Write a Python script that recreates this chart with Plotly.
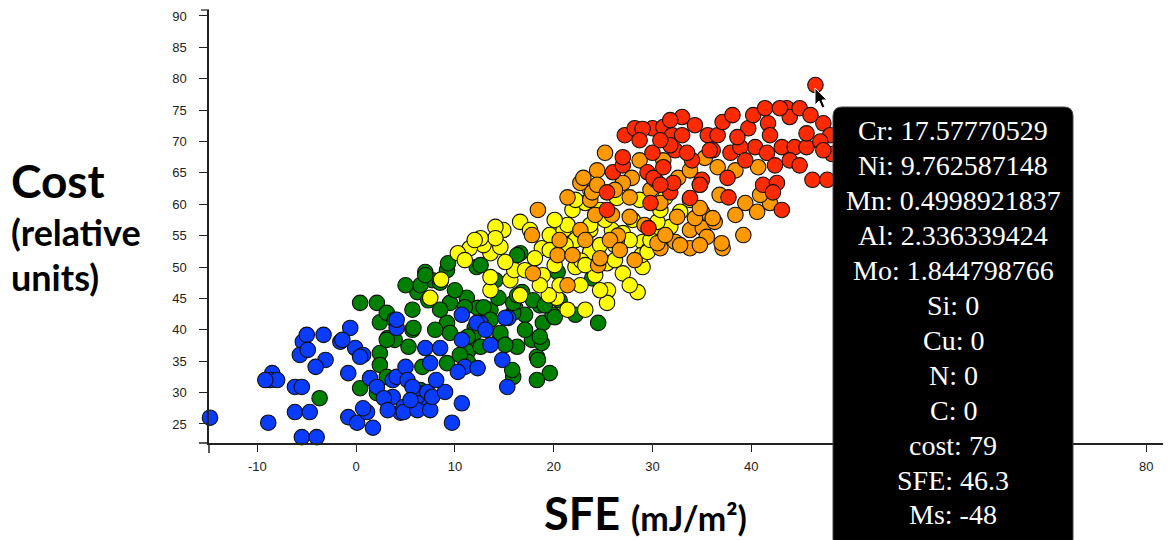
import plotly.graph_objects as go

# ---------------- data (SFE in mJ/m^2, cost in relative units) ----------------
blue_sfe = [-14.8, -8.9, -8.5, -8.7, -8.0, -9.2, -6.2, -5.5, -6.2, -4.7, -5.5, -4.0,
            -5.4, -5.0, -5.7, -4.9, -3.3, -3.1, -4.1, -1.6, -0.6, -0.1, 0.7, -0.8,
            -0.8, 0.1, 1.1, 1.7, 1.4, 2.1, 3.7, 4.1, 3.7, 4.5, -1.4, 4.1, 7.0, 8.5,
            10.7, 12.6, 10.7, 11.0, 12.3, 10.3, 14.8, 15.3, 15.4, 4.1, 5.0, 5.2,
            6.3, 7.2, 4.8, 6.2, 7.3, 10.7, 7.5, 5.7, 9.7, 4.8, 6.2, 7.5, 0.7, 5.5,
            7.7, 0.4, 12.2, 15.1, 13.1, 13.6, 9.0, 8.1, 2.8, 3.2]
blue_cost = [26.0, 25.2, 33.1, 32.0, 32.0, 32.0, 30.9, 30.9, 26.9, 26.9, 22.9, 22.9,
             38.1, 39.2, 36.0, 36.8, 39.2, 35.2, 34.1, 38.1, 40.3, 37.1, 36.0, 33.1,
             26.1, 25.2, 26.9, 24.4, 32.3, 30.9, 32.0, 40.3, 29.3, 26.8, 38.4, 41.6, 37.1, 37.1,
             42.4, 41.1, 38.4, 34.1, 33.9, 33.3, 35.2, 30.9, 41.9, 32.5, 34.1, 32.0,
             29.9, 30.1, 27.7, 28.3, 27.7, 28.3, 34.7, 30.9, 25.2, 26.9, 27.2, 27.2, 27.5, 28.8,
             29.3, 35.7, 41.1, 41.9, 40.0, 37.6, 30.1, 32.0, 29.1, 27.2]

green_sfe = [-3.7, 0.4, 2.1, 2.4, 3.2, 2.4, 2.4, 0.4, 2.1, 3.1, 5.7, 5.7, 6.2, 7.0, 7.7,
             9.2, 9.3, 9.5, 9.2, 11.2, 12.2, 12.3, 12.0, 11.7, 14.6, 16.3, 16.8, 16.1,
             17.1, 16.6, 17.8, 18.3, 15.9, 9.2, 6.7, 6.5, 5.3, 5.8, 9.5, 11.3, 12.0,
             13.6, 15.9, 18.9, 19.9, 18.8, 18.4, 19.6, 18.3, 15.8, 11.3, 24.5, 3.9,
             12.6, 14.1, 15.9, 20.4, 23.9, 18.6, 19.6, 20.1, 12.9, 13.6, 6.5, 7.3, 8.5,
             10.0, 7.0, 16.3, 16.3, 17.9, 18.6, 3.1, 3.1, 8.0, 11.0, 11.3, 14.6, 12.6,
             5.0, 8.5, 3.9, 10.5, 17.1, 15.1, 19.1, 20.6, 22.2, 14.4]
green_cost = [29.1, 44.3, 44.3, 41.2, 38.7, 36.3, 34.4, 30.7, 29.9, 32.5, 43.2, 40.0, 46.0, 49.2, 47.9,
              49.5, 50.6, 44.3, 41.1, 45.1, 50.0, 43.5, 40.3, 37.3, 38.9, 37.3, 46.0, 43.5,
              42.4, 52.2, 38.4, 35.7, 32.5, 34.7, 34.1, 30.4, 37.3, 40.3, 39.5, 36.5, 39.5,
              43.2, 42.7, 41.1, 42.4, 37.9, 35.2, 33.1, 32.0, 33.6, 34.9, 41.1, 38.4,
              50.3, 47.9, 44.3, 49.2, 48.2, 43.9, 45.2, 42.0, 43.6, 41.6, 47.1, 44.7, 43.2,
              46.3, 48.7, 51.9, 45.5, 44.7, 38.9, 42.7, 38.4, 40.0, 43.6, 38.9, 39.5, 37.3,
              47.1, 47.5, 41.6, 36.0, 40.0, 37.6, 43.9, 44.7, 42.4, 45.1]

yellow_sfe = [14.9, 14.1, 16.6, 13.6, 12.9, 14.6, 15.6, 13.6, 18.8, 18.9, 20.3, 19.6, 21.0,
              22.2, 21.9, 23.7, 24.5, 23.7, 25.5, 25.4, 23.2, 21.4, 27.0, 29.0, 28.5, 25.9,
              28.0, 29.0, 30.3, 31.8, 31.3, 26.4, 7.5, 11.5, 10.3, 32.8, 30.5, 27.0, 28.9,
              14.1, 21.4, 25.4, 13.6, 12.6, 17.6, 18.1, 20.1, 20.6, 22.7, 24.2, 26.2, 27.7,
              29.6, 30.3, 24.7, 23.7, 22.2, 28.7, 33.8, 34.8, 30.8, 23.2, 24.7, 23.7, 26.4,
              29.5, 8.6, 16.0, 19.5, 22.8, 11.0, 12.0, 15.1, 17.1, 19.6, 21.2, 23.2, 24.7,
              26.2, 27.7, 29.8, 16.6, 18.6, 20.1, 22.2, 25.2]
yellow_cost = [55.9, 56.4, 57.2, 52.2, 53.5, 53.2, 47.9, 46.3, 53.0, 48.7, 45.1, 55.1, 55.9,
               50.0, 59.1, 55.9, 53.0, 52.4, 46.3, 44.3, 43.2, 43.2, 49.0, 50.0, 46.0, 55.9,
               57.5, 54.0, 56.4, 56.4, 61.1, 61.0, 45.1, 53.0, 52.2, 58.8, 57.2, 55.4, 51.9,
               54.6, 56.7, 50.6, 48.4, 54.6, 55.9, 51.4, 50.3, 47.1, 47.1, 48.7, 53.5, 54.3,
               52.7, 53.5, 59.1, 62.3, 54.3, 60.7, 60.7, 63.1, 59.1, 60.2, 53.5, 56.7, 54.3,
               52.4, 48.0, 49.5, 45.5, 51.0, 51.1, 54.3, 50.8, 49.5, 52.7, 53.5, 50.3, 46.3,
               51.1, 47.1, 54.3, 45.5, 47.1, 57.5, 60.7, 57.5]

orange_sfe = [18.4, 17.8, 20.4, 21.9, 24.5, 21.4, 17.9, 22.7, 21.4, 22.7, 27.7, 30.8, 28.2,
              27.7, 33.8, 33.8, 35.1, 36.3, 35.5, 37.1, 39.2, 39.4, 40.6, 41.9, 32.6, 35.0,
              34.3, 25.2, 31.1, 35.3, 36.6, 40.7, 27.9, 34.8, 36.1, 23.0, 24.4, 23.7, 30.8,
              30.5, 32.3, 24.7, 32.5, 27.0, 23.9, 25.9, 24.2, 29.8, 36.8, 38.4, 37.0, 26.5,
              20.6, 23.2, 25.7, 26.7, 29.2, 31.3, 32.8, 34.8, 38.4, 40.9, 33.8, 28.7, 26.2,
              24.4, 30.3]
orange_cost = [59.1, 55.1, 51.9, 51.9, 50.3, 47.1, 49.0, 55.9, 61.1, 63.4, 58.0, 53.0, 51.1,
               61.1, 55.9, 53.0, 56.2, 57.2, 54.8, 53.0, 55.1, 60.2, 58.8, 60.2, 64.2, 58.8,
               57.8, 68.2, 67.0, 67.4, 65.9, 65.9, 64.2, 59.4, 57.8, 64.2, 65.4, 60.7, 60.2,
               53.8, 54.0, 51.4, 58.0, 63.4, 61.9, 58.3, 58.3, 62.3, 61.5, 65.4, 53.8, 55.0,
               54.3, 54.3, 54.3, 52.7, 56.7, 55.1, 53.5, 53.5, 58.3, 61.5, 65.4, 67.0, 62.3,
               63.1, 63.9]

red_sfe = [27.2, 28.2, 30.0, 31.1, 32.0, 33.0, 33.0, 31.8, 30.0, 32.3, 34.0, 35.6, 36.6,
           37.1, 38.1, 39.7, 40.2, 41.4, 41.7, 41.9, 43.6, 43.9, 44.9, 40.4, 37.9, 38.9,
           41.6, 43.1, 44.4, 45.6, 45.6, 43.9, 47.3, 46.2, 47.7, 41.2, 42.6, 42.2, 43.1,
           26.0, 27.0, 25.4, 29.5, 30.1, 31.8, 33.8, 35.0, 37.6, 37.7, 29.8, 25.4, 48.0,
           29.6, 34.8, 31.8, 33.5, 38.6, 42.9, 36.1, 27.0, 32.1, 31.1, 29.0, 47.0, 48.2,
           28.7, 30.8, 34.3, 35.8, 39.4, 42.4, 44.9, 30.8, 46.0, 47.3,
           46.5]
red_cost = [71.0, 72.1, 72.1, 72.3, 71.0, 73.9, 71.0, 73.4, 68.2, 68.6, 67.0, 71.0, 71.0,
            73.1, 74.2, 72.1, 74.2, 75.3, 72.9, 71.0, 75.3, 73.9, 75.3, 69.1, 68.2, 69.1,
            68.2, 69.1, 69.1, 69.1, 71.3, 67.0, 72.9, 63.9, 63.9, 63.1, 63.4, 61.9, 59.1,
            65.1, 66.2, 61.9, 65.1, 64.2, 61.9, 61.0, 63.9, 64.2, 61.1, 60.2, 59.1, 71.0,
            56.2, 63.1, 69.4, 68.2, 70.7, 75.3, 68.6, 67.5, 63.4, 65.9, 72.0, 70.0, 68.0,
            70.2, 70.2, 72.6, 68.6, 67.0, 66.2, 66.2, 63.1, 74.2, 68.6,
            79.0]

x_ticks = [-10, 0, 10, 20, 30, 40, 50, 60, 70, 80]
x_tick_text = ["-10", "0", "10", "20", "30", "40", "", "", "", "80"]  # 50-70 hidden by tooltip
y_ticks = [25, 30, 35, 40, 45, 50, 55, 60, 65, 70, 75, 80, 85, 90]

tooltip_lines = ["Cr: 17.57770529", "Ni: 9.762587148", "Mn: 0.4998921837",
                 "Al: 2.336339424", "Mo: 1.844798766", "Si: 0", "Cu: 0", "N: 0",
                 "C: 0", "cost: 79", "SFE: 46.3", "Ms: -48"]

# ---------------- figure ----------------
O = 8                      # page body margin
W, H = 1171 - O, 540 - O
L, R, T, B = 209 - O, 0, 10 - O, 97
PW, PH = W - L - R, H - T - B


def px(xp, yp):
    """page pixel -> paper coords"""
    return (xp - O - L) / PW, (H - B - (yp - O)) / PH


series = [
    ("green", green_sfe, green_cost, "#008000"),
    ("blue", blue_sfe, blue_cost, "#0a3cff"),
    ("yellow", yellow_sfe, yellow_cost, "#ffff00"),
    ("orange", orange_sfe, orange_cost, "#ff9900"),
    ("red", red_sfe, red_cost, "#ff2a00"),
]

fig = go.Figure()
for name, xs, ys, col in series:
    fig.add_trace(go.Scatter(
        x=xs, y=ys, mode="markers", name=name,
        marker=dict(size=15.5, color=col, line=dict(color="#111", width=1.1)),
        hoverinfo="skip", cliponaxis=False,
    ))

fig.update_layout(
    width=W, height=H,
    margin=dict(l=L, r=R, t=T, b=B, pad=0),
    paper_bgcolor="white", plot_bgcolor="white",
    showlegend=False,
    font=dict(family="Liberation Sans, Arial", color="#222"),
)
fig.update_xaxes(
    range=[-14.9, 82.5], tickvals=x_ticks, ticktext=x_tick_text,
    showgrid=False, zeroline=False, showline=True, linecolor="#222", linewidth=1.5,
    ticks="outside", ticklen=7, tickwidth=1.2, tickcolor="#222", automargin=False,
    ticklabelstandoff=4,
    tickfont=dict(size=13, family="Liberation Sans, Arial", color="#222"),
)
fig.update_yaxes(
    range=[21.97, 90.95], tickvals=y_ticks,
    showgrid=False, zeroline=False, showline=True, linecolor="#222", linewidth=1.5,
    ticks="outside", ticklen=8, tickwidth=1.2, tickcolor="#222", automargin=False,
    ticklabelstandoff=10,
    tickfont=dict(size=13, family="Liberation Sans, Arial", color="#222"),
)

# outer domain ticks (axis corner)
fig.add_shape(type="line", xref="paper", yref="paper", xsizemode="pixel", xanchor=0,
              x0=-10, x1=0, y0=0, y1=0, line=dict(color="#222", width=1.5))
fig.add_shape(type="line", xref="paper", yref="paper", ysizemode="pixel", yanchor=0,
              x0=0, x1=0, y0=-10, y1=0, line=dict(color="#222", width=1.5))
fig.add_shape(type="line", xref="paper", yref="paper", xsizemode="pixel", xanchor=0,
              x0=-8, x1=0, y0=1, y1=1, line=dict(color="#222", width=1.2))

# tooltip box with rounded corners
x0p, y1p = px(833, 107)
x1p, y0p = px(1073, 548)
rx, ry = 9 / PW, 9 / PH
path = (f"M {x0p+rx},{y1p} L {x1p-rx},{y1p} Q {x1p},{y1p} {x1p},{y1p-ry} "
        f"L {x1p},{y0p+ry} Q {x1p},{y0p} {x1p-rx},{y0p} L {x0p+rx},{y0p} "
        f"Q {x0p},{y0p} {x0p},{y0p+ry} L {x0p},{y1p-ry} Q {x0p},{y1p} {x0p+rx},{y1p} Z")
fig.add_shape(type="path", xref="paper", yref="paper", path=path,
              fillcolor="black", line=dict(color="#444", width=1), layer="above")

for i, txt in enumerate(tooltip_lines):
    xa, ya = px(953, 131 + i * 34.9)
    fig.add_annotation(x=xa, y=ya, xref="paper", yref="paper", text=txt, showarrow=False,
                       xanchor="center", yanchor="middle",
                       font=dict(family="Liberation Serif, Times New Roman", size=28, color="white"))

# mouse cursor next to hovered point
cx, cy = px(815, 88)
sx, sy = 1 / PW, 1 / PH
cur = (f"M {cx},{cy} L {cx},{cy-17*sy} L {cx+4*sx},{cy-13*sy} L {cx+7*sx},{cy-20*sy} "
       f"L {cx+10*sx},{cy-19*sy} L {cx+7*sx},{cy-12*sy} L {cx+12*sx},{cy-12*sy} Z")
fig.add_shape(type="path", xref="paper", yref="paper", path=cur,
              fillcolor="black", line=dict(color="white", width=1), layer="above")


# axis titles
def label(text, xp, yp, size, anchor="left"):
    xa, ya = px(xp, yp)
    fig.add_annotation(x=xa, y=ya, xref="paper", yref="paper", text=text, showarrow=False,
                       xanchor=anchor, yanchor="middle",
                       font=dict(family="Lato, Open Sans", size=size, color="black"))


label("<b>Cost</b>", 9, 180, 46)
label("<b>(relative</b>", 9, 232, 36)
label("<b>units)</b>", 9, 277, 36)
label("<b>SFE</b>", 542, 513, 45)
label("<b>(mJ/m²)</b>", 629, 518, 34)

fig.write_html("out.html")
